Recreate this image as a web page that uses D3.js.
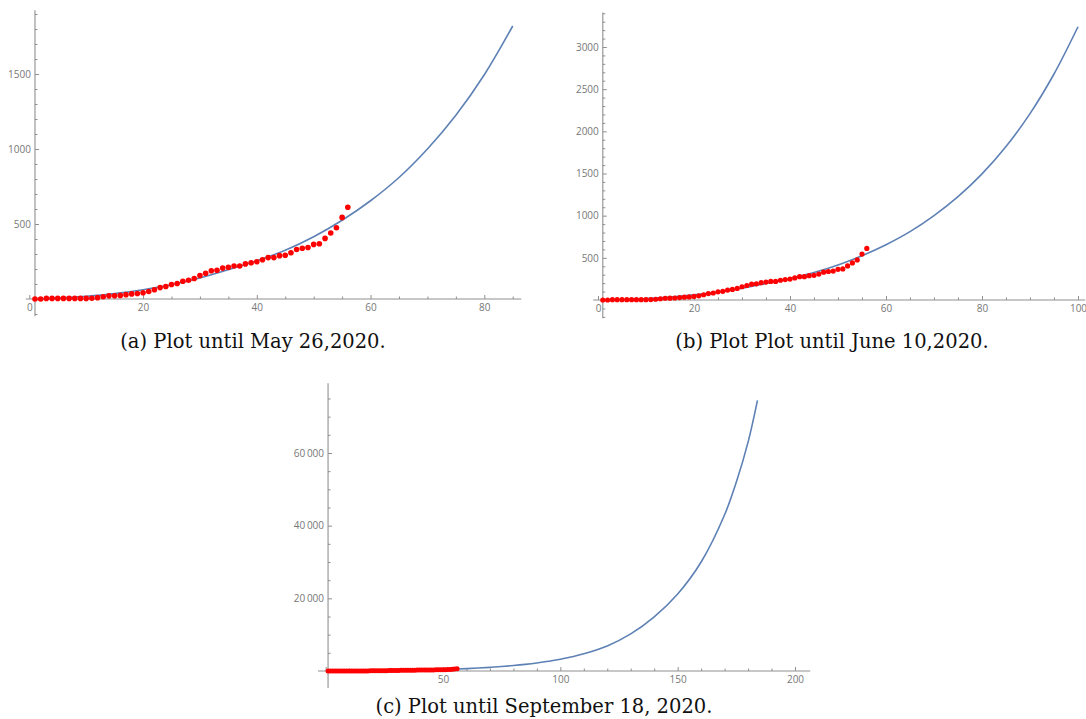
<!DOCTYPE html>
<html><head><meta charset="utf-8">
<script src="https://cdn.jsdelivr.net/npm/d3@7"></script>
<style>body{margin:0;background:#fff} svg{display:block}</style>
</head><body>
<svg id="chart" width="1086" height="719"></svg>
<script>
// ---- data ----
const days = [1,2,3,4,5,6,7,8,9,10,11,12,13,14,15,16,17,18,19,20,21,22,23,24,25,26,27,28,
  29,30,31,32,33,34,35,36,37,38,39,40,41,42,43,44,45,46,47,48,49,50,51,52,53,54,55,56];
const cases = [0,0,4,4,4,4,4,4,4,4,5,9,15,21,22,24,29,34,37,42,50,62,76,83,97,103,118,125,
  137,157,172,188,192,206,212,220,220,234,242,248,262,276,276,289,292,308,330,338,343,364,368,404,440,475,544,612];
const fitX = [1,5,10,15,20,25,30,35,40,45,50,55,60,65,70,75,80,85,90,95,100,110,120,130,140,150,160,170,175,180,184];
const fitY = [-3,6,18,36,62,95,140,195,255,325,415,525,655,810,1000,1225,1495,1820,2210,2680,3240,4750,6900,10200,14900,21200,30000,43000,52000,63000,74500];
const captions = ["(a) Plot until May 26,2020.", "(b) Plot Plot until June 10,2020.", "(c) Plot until September 18, 2020."];
const ticksA = {xMajor:[0,20,40,60,80], yMajor:[500,1000,1500]};
const ticksB = {xMajor:[0,20,40,60,80,100], yMajor:[500,1000,1500,2000,2500,3000]};
const ticksC = {xMajor:[0,50,100,150,200], yMajor:[20000,40000,60000]};

// ---- layout ----
const svg = d3.select("#chart");
const AXIS = "#8f8f8f", LABEL = "#777", BLUE = "#5e81b5", RED = "#ff0000";

const panels = [
  {ticks:ticksA, xRef:80, xr:[29.3,484.3], yRef:1500, yr:[299,74], xMin:-0.6, xMax:86.5, yMin:-115, yMax:1925,
   xMinor:5, yMinor:100, fitMax:85, r:2.8, xLab0:true, cap:[253,348], fmt:d3.format("d")},
  {ticks:ticksB, xRef:100, xr:[598,1078], yRef:3000, yr:[300,47], xMin:-1, xMax:101.5, yMin:-215, yMax:3410,
   xMinor:5, yMinor:100, fitMax:100, r:2.6, xLab0:true, cap:[832,348], fmt:d3.format("d")},
  {ticks:ticksC, xRef:200, xr:[325.7,795], yRef:60000, yr:[671,453], xMin:-3.3, xMax:206.5, yMin:-4700, yMax:79200,
   xMinor:10, yMinor:5000, fitMax:184, r:2.5, xLab0:false, cap:[544,713],
   fmt:d => d3.format(",")(d).replace(",", "\u2009")}
];

panels.forEach((p, i) => {
  const x = d3.scaleLinear().domain([0, p.xRef]).range(p.xr);
  const y = d3.scaleLinear().domain([0, p.yRef]).range(p.yr);
  const g = svg.append("g");
  const yAxisX = x(1);

  // axis lines
  g.append("line").attr("x1", x(p.xMin)).attr("x2", x(p.xMax)).attr("y1", y(0)).attr("y2", y(0))
    .attr("stroke", AXIS).attr("stroke-width", 1.1);
  g.append("line").attr("x1", yAxisX).attr("x2", yAxisX).attr("y1", y(p.yMin)).attr("y2", y(p.yMax))
    .attr("stroke", AXIS).attr("stroke-width", 1.1);

  // minor ticks
  const xMinorVals = d3.range(0, p.xMax, p.xMinor).filter(v => !p.ticks.xMajor.includes(v));
  const yMinorVals = d3.range(Math.ceil(p.yMin / p.yMinor) * p.yMinor, p.yMax, p.yMinor)
    .filter(v => v !== 0 && !p.ticks.yMajor.includes(v));
  const xMinAx = d3.axisBottom(x).tickValues(xMinorVals).tickSize(-2.5).tickFormat("");
  const yMinAx = d3.axisLeft(y).tickValues(yMinorVals).tickSize(-2.5).tickFormat("");
  const xMajAx = d3.axisBottom(x).tickValues(p.ticks.xMajor).tickSize(-4).tickPadding(5)
    .tickFormat(d => (d === 0 && !p.xLab0) ? "" : p.fmt(d));
  const yMajAx = d3.axisLeft(y).tickValues(p.ticks.yMajor).tickSize(-4).tickPadding(4).tickFormat(p.fmt);

  [[xMinAx, `translate(0,${y(0)})`], [xMajAx, `translate(0,${y(0)})`],
   [yMinAx, `translate(${yAxisX},0)`], [yMajAx, `translate(${yAxisX},0)`]].forEach(([ax, tr]) => {
    const a = g.append("g").attr("transform", tr).call(ax);
    a.select(".domain").remove();
    a.selectAll(".tick line").attr("stroke", AXIS).attr("stroke-width", 1);
    a.selectAll(".tick text").attr("fill", LABEL).attr("font-family", "'Open Sans', 'DejaVu Sans', sans-serif")
      .attr("font-size", 10);
  });

  // fitted curve
  const pts = fitX.map((v, k) => [v, fitY[k]]).filter(d => d[0] <= p.fitMax);
  g.append("path").datum(pts)
    .attr("d", d3.line().x(d => x(d[0])).y(d => y(d[1])).curve(d3.curveCatmullRom.alpha(0.5)))
    .attr("fill", "none").attr("stroke", BLUE).attr("stroke-width", 1.6);

  // data points
  g.selectAll("circle").data(days.map((d, k) => [d, cases[k]])).join("circle")
    .attr("cx", d => x(d[0])).attr("cy", d => y(d[1])).attr("r", p.r).attr("fill", RED);

  // caption
  svg.append("text").attr("x", p.cap[0]).attr("y", p.cap[1]).attr("text-anchor", "middle")
    .attr("font-family", "'DejaVu Serif', serif").attr("font-size", 19.5).attr("fill", "#111")
    .text(captions[i]);
});
</script>
</body></html>
